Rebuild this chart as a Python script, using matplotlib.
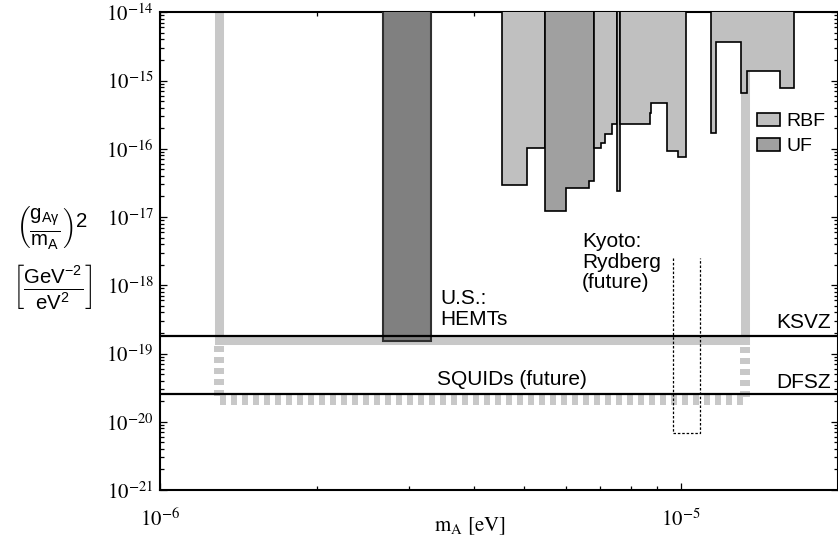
import numpy as np
import matplotlib
matplotlib.use('Agg')
import matplotlib.pyplot as plt
from matplotlib.patches import Patch
from matplotlib.ticker import LogLocator, FuncFormatter, NullFormatter

plt.rcParams['font.family'] = ['Liberation Sans', 'DejaVu Sans']
plt.rcParams['mathtext.fontset'] = 'stix'
plt.rcParams['mathtext.rm'] = 'Liberation Sans'
plt.rcParams['mathtext.it'] = 'Liberation Sans:italic'
plt.rcParams['mathtext.bf'] = 'Liberation Sans:bold'

# axis ranges
x_min, x_max = 1e-6, 2e-5
y_min, y_max = 1e-21, 1e-14

# RBF / UF exclusion regions: bin edges (eV) and lower limit of (g/m)^2
rbf1_edges = [4.53e-6, 5.05e-6, 5.48e-6]
rbf1_limit = [2.94e-17, 1.02e-16]
uf1_edges = [5.48e-6, 6.0e-6, 6.66e-6, 6.81e-6]
uf1_limit = [1.23e-17, 2.64e-17, 3.37e-17]
rbf2_edges = [6.81e-6, 7.02e-6, 7.14e-6, 7.37e-6, 7.52e-6]
rbf2_limit = [1.02e-16, 1.23e-16, 1.65e-16, 2.31e-16]
rbf3_edges = [7.52e-6, 7.64e-6]
rbf3_limit = [2.43e-17]
rbf4_edges = [7.64e-6, 8.71e-6, 8.77e-6, 9.39e-6, 9.87e-6, 1.024e-5]
rbf4_limit = [2.31e-16, 3.31e-16, 4.73e-16, 9.19e-17, 7.65e-17]
rbf5_edges = [1.14e-5, 1.168e-5, 1.30e-5, 1.34e-5, 1.545e-5, 1.646e-5]
rbf5_limit = [1.69e-16, 3.71e-15, 6.64e-16, 1.38e-15, 7.69e-16]

# US HEMT exclusion (big dark bar)
hemt_bar_edges = [2.676e-6, 3.317e-6]
hemt_bar_limit = [1.52e-19]

# future sensitivities
hemt_range = [1.298e-6, 1.327e-5]
hemt_reach = 1.60e-19
squid_top = 1.29e-19
squid_reach = 2.08e-20
kyoto_range = [9.65e-6, 1.088e-5]
kyoto_top = 2.51e-18
kyoto_reach = 6.91e-21

# model lines
ksvz = 1.80e-19
dfsz = 2.55e-20

RBF_COL = '#c0c0c0'
UF_COL = '#a0a0a0'
GRAY = '#c8c8c8'

fig = plt.figure(figsize=(8.38, 5.42), dpi=100)
ax = fig.add_axes([160/838, 1 - 490/542, 678/838, (490 - 12.3)/542])
ax.set_xscale('log')
ax.set_yscale('log')
ax.set_xlim(x_min, x_max)
ax.set_ylim(y_min, y_max)

# HEMT future reach (solid gray)
ax.plot([hemt_range[0], hemt_range[0], hemt_range[1], hemt_range[1]],
        [y_max, hemt_reach, hemt_reach, y_max],
        color=GRAY, lw=6.5, solid_joinstyle='miter', solid_capstyle='butt', zorder=1)

# SQUID future reach (dashed gray)
ax.plot([hemt_range[0], hemt_range[0], hemt_range[1], hemt_range[1]],
        [squid_top, squid_reach, squid_reach, squid_top],
        color=GRAY, lw=7.2, dashes=[0.6, 0.5], dash_capstyle='butt', zorder=1)

# Kyoto Rydberg (dotted)
ax.plot([kyoto_range[0], kyoto_range[0], kyoto_range[1], kyoto_range[1]],
        [kyoto_top, kyoto_reach, kyoto_reach, kyoto_top],
        color='black', lw=0.9, linestyle=(0, (2, 1.5)), zorder=2)

# RBF / UF excluded regions
for edges, lim, col in [(rbf1_edges, rbf1_limit, RBF_COL),
                        (uf1_edges, uf1_limit, UF_COL),
                        (rbf2_edges, rbf2_limit, RBF_COL),
                        (rbf3_edges, rbf3_limit, RBF_COL),
                        (rbf4_edges, rbf4_limit, RBF_COL),
                        (rbf5_edges, rbf5_limit, RBF_COL)]:
    ax.stairs(lim, edges, baseline=y_max, fill=True,
              facecolor=col, edgecolor='black', linewidth=1.2, zorder=3)

ax.stairs(hemt_bar_limit, hemt_bar_edges, baseline=y_max, fill=True,
          facecolor='#808080', edgecolor='#303030', linewidth=1.5, zorder=3)

ax.axhline(ksvz, color='black', lw=1.6, zorder=4)
ax.axhline(dfsz, color='black', lw=1.6, zorder=4)

# annotations
ax.text(3.45e-6, 8.8e-19, 'U.S.:\nHEMTs', fontsize=15, ha='left', va='top', linespacing=1.1)
ax.text(6.46e-6, 6.0e-18, 'Kyoto:\nRydberg\n(future)', fontsize=15, ha='left', va='top',
        linespacing=1.1)
ax.text(3.40e-6, 4.23e-20, 'SQUIDs (future)', fontsize=15, ha='left', va='center')
ax.text(1.94e-5, 2.89e-19, 'KSVZ', fontsize=15, ha='right', va='center')
ax.text(1.94e-5, 3.82e-20, 'DFSZ', fontsize=15, ha='right', va='center')

# legend
handles = [Patch(facecolor=RBF_COL, edgecolor='black', lw=1.2, label='RBF'),
           Patch(facecolor=UF_COL, edgecolor='black', lw=1.2, label='UF')]
ax.legend(handles=handles, loc='upper left', bbox_to_anchor=(757/838, 1 - 113/542),
          bbox_transform=fig.transFigure, frameon=False, fontsize=14,
          handlelength=1.17, handleheight=0.64, handletextpad=0.35,
          labelspacing=0.4, borderpad=0, borderaxespad=0)

# ticks
exp_fmt = FuncFormatter(lambda v, p: r'$10^{%d}$' % round(np.log10(v)))
ax.xaxis.set_major_locator(LogLocator(base=10, numticks=20))
ax.yaxis.set_major_locator(LogLocator(base=10, numticks=20))
ax.xaxis.set_minor_locator(LogLocator(base=10, subs=np.arange(2, 10), numticks=20))
ax.yaxis.set_minor_locator(LogLocator(base=10, subs=np.arange(2, 10), numticks=20))
ax.xaxis.set_major_formatter(exp_fmt)
ax.yaxis.set_major_formatter(exp_fmt)
ax.xaxis.set_minor_formatter(NullFormatter())
ax.yaxis.set_minor_formatter(NullFormatter())
ax.tick_params(which='both', direction='in', top=True, right=True, width=0.9)
ax.tick_params(which='major', length=5, labelsize=15)
ax.tick_params(which='minor', length=3)
ax.tick_params(axis='x', pad=13)
ax.tick_params(axis='y', pad=4.5)
for s in ax.spines.values():
    s.set_linewidth(1.5)

# axis labels
fig.text(470/838, 1 - 526/542, r'$\mathrm{m_A}$ [eV]', fontsize=15,
         family='STIXGeneral', ha='center', va='center')
fig.text(52/838, 1 - 228/542, r'$\left(\frac{\mathrm{g_{A\gamma}}}{\mathrm{m_A}}\right)^2$',
         fontsize=21, ha='center', va='center', math_fontfamily='custom')
fig.text(52/838, 1 - 287/542, r'$\left[\frac{\mathrm{GeV^{-2}}}{\mathrm{eV^2}}\right]$',
         fontsize=21, ha='center', va='center', math_fontfamily='custom')

fig.savefig('out.png', dpi=100)
